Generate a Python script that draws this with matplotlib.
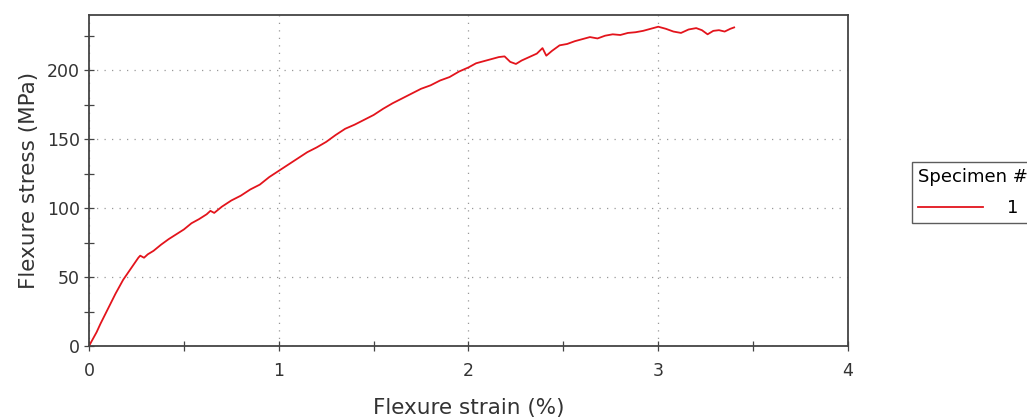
import matplotlib

matplotlib.use("Agg")
import matplotlib.pyplot as plt
from matplotlib.ticker import MultipleLocator

# Flexure curve for specimen 1 (strain %, stress MPa)
strain = [
    0.00, 0.02, 0.04, 0.06, 0.08, 0.10, 0.12, 0.14, 0.16, 0.18, 0.20, 0.22,
    0.24, 0.26, 0.27, 0.29, 0.31, 0.34, 0.38, 0.42, 0.46, 0.50, 0.54, 0.58,
    0.62, 0.64, 0.66, 0.70, 0.75, 0.80, 0.85, 0.90, 0.95, 1.00, 1.05, 1.10,
    1.15, 1.20, 1.25, 1.30, 1.35, 1.40, 1.45, 1.50, 1.55, 1.60, 1.65, 1.70,
    1.75, 1.80, 1.85, 1.90, 1.95, 2.00, 2.04, 2.08, 2.12, 2.16, 2.19, 2.22,
    2.25, 2.28, 2.32, 2.36, 2.39, 2.41, 2.44, 2.48, 2.52, 2.56, 2.60, 2.64,
    2.68, 2.72, 2.76, 2.80, 2.84, 2.88, 2.92, 2.96, 3.00, 3.04, 3.08, 3.12,
    3.16, 3.20, 3.23, 3.26, 3.29, 3.32, 3.35, 3.38, 3.40,
]
stress = [
    0.0, 5.0, 10.0, 16.0, 21.5, 27.0, 32.5, 38.0, 43.0, 48.0, 52.0, 56.0,
    60.0, 64.0, 65.5, 64.0, 66.5, 69.0, 73.5, 77.5, 81.0, 84.5, 89.0, 92.0,
    95.5, 98.0, 96.5, 101.0, 105.5, 109.0, 113.5, 117.0, 122.5, 127.0, 131.5, 136.0,
    140.5, 144.0, 148.0, 153.0, 157.5, 160.5, 164.0, 167.5, 172.0, 176.0, 179.5, 183.0,
    186.5, 189.0, 192.5, 195.0, 199.0, 202.0, 205.0, 206.5, 208.0, 209.5, 210.0, 206.0,
    204.5, 207.0, 209.5, 212.0, 216.0, 210.5, 214.0, 218.0, 219.0, 221.0, 222.5, 224.0,
    223.0, 225.0, 226.0, 225.5, 227.0, 227.5, 228.5, 230.0, 231.5, 230.0, 228.0, 227.0,
    229.5, 230.5, 229.0, 226.0, 228.5, 229.0, 228.0, 230.0, 231.0,
]

x_major = [0, 1, 2, 3, 4]
y_major = [0, 50, 100, 150, 200]

fig = plt.figure(figsize=(10.27, 4.17), dpi=100)
ax = fig.add_axes([89 / 1027, 71 / 417, 759 / 1027, 331 / 417])

ax.plot(strain, stress, color="#e3141c", linewidth=1.3, label="1")

ax.set_xlim(0, 4)
ax.set_ylim(0, 240)
ax.set_xticks(x_major)
ax.set_yticks(y_major)
ax.xaxis.set_minor_locator(MultipleLocator(0.5))
ax.yaxis.set_minor_locator(MultipleLocator(25))

text_color = "#333333"
ax.tick_params(which="both", direction="inout", length=7, width=0.9,
               color="#444444", labelcolor=text_color, labelsize=12.5)
ax.tick_params(axis="x", which="major", pad=8)
ax.tick_params(axis="y", which="major", pad=3)
for spine in ax.spines.values():
    spine.set_color("#444444")
    spine.set_linewidth(1.3)

ax.grid(True, which="major", linestyle=(0, (1, 5)), color="#999999",
        linewidth=0.9)

ax.set_xlabel("Flexure strain (%)", fontsize=15.5, color=text_color, labelpad=13)
ax.set_ylabel("Flexure stress (MPa)", fontsize=15.5, color=text_color, labelpad=6)

# legend box runs off the right edge, as in the reference
leg = ax.legend(title="Specimen #", loc="upper left",
                bbox_to_anchor=(912 / 1027, 1 - 162 / 417),
                bbox_transform=fig.transFigure, fontsize=13,
                title_fontsize=13, frameon=True, fancybox=False,
                handlelength=3.6, borderpad=0.35, handletextpad=1.3,
                borderaxespad=0, labelspacing=0.2)
leg._legend_box.sep = 9
leg.get_frame().set_edgecolor("#333333")
leg.get_frame().set_linewidth(1.0)
leg._legend_box.align = "left"

fig.savefig("out.png", dpi=100)
